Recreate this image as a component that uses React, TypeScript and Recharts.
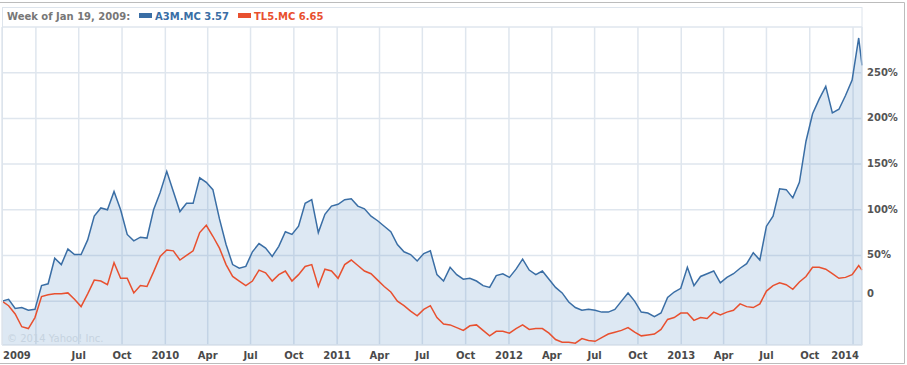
import { ComposedChart, Area, Line, XAxis, YAxis, CartesianGrid } from 'recharts'

const START = Date.UTC(2009, 0, 19)
const WEEK_MS = 7 * 24 * 3600 * 1000

// one point every other week since Jan 19 2009, plus the latest week
const weeks = [...Array.from({ length: 131 }, (_, i) => i * 2), 261]

// % change since start
const a3m = [
  0, 2, -8, -7, -10, -9, 17, 19, 47, 40,
  57, 51, 51, 67, 93, 102, 100, 120, 100, 73,
  66, 70, 69, 100, 119, 142, 120, 98, 107, 107,
  135, 130, 122, 90, 62, 40, 36, 38, 54, 63,
  58, 49, 60, 76, 73, 82, 107, 111, 75, 95,
  104, 106, 111, 112, 104, 101, 93, 88, 82, 76,
  62, 54, 51, 44, 52, 55, 29, 22, 37, 29,
  24, 25, 22, 17, 15, 28, 30, 26, 35, 46,
  34, 29, 33, 24, 15, 9, -1, -7, -10, -9,
  -10, -12, -12, -9, 0, 9, 0, -12, -13, -17,
  -13, 4, 10, 14, 37, 17, 27, 30, 33, 20,
  26, 30, 36, 41, 53, 45, 82, 93, 123, 122,
  113, 130, 175, 205, 221, 235, 206, 210, 225, 242,
  288, 258,
]

const tl5 = [
  0, -5, -14, -28, -30, -18, 5, 7, 8, 8,
  9, 2, -6, 8, 23, 22, 18, 42, 25, 25,
  9, 17, 16, 32, 49, 56, 55, 45, 50, 55,
  75, 83, 71, 58, 40, 27, 22, 17, 22, 34,
  31, 22, 29, 33, 22, 29, 38, 40, 16, 35,
  33, 25, 40, 45, 39, 33, 30, 23, 16, 10,
  0, -5, -11, -16, -9, -5, -18, -25, -26, -29,
  -32, -27, -26, -32, -38, -33, -33, -35, -30, -26,
  -31, -30, -30, -35, -42, -45, -45, -46, -41, -43,
  -44, -40, -36, -34, -32, -29, -34, -38, -37, -36,
  -31, -20, -18, -13, -13, -21, -18, -19, -12, -15,
  -12, -10, -3, -6, -7, -3, 11, 17, 20, 18,
  13, 21, 27, 37, 37, 35, 30, 25, 26, 29,
  39, 34,
]

const yTicks = [0, 50, 100, 150, 200, 250, 300]
const monthNames: Record<number, string> = { 3: 'Apr', 6: 'Jul', 9: 'Oct' }

const data = weeks.map((w, i) => ({ w, a3m: a3m[i], tl5: tl5[i] }))

// quarter gridlines; first label sits at the left edge
const xTicks: { w: number; label: string }[] = [{ w: 0, label: '2009' }]
for (let y = 2009; y <= 2014; y++) {
  for (const m of [0, 3, 6, 9]) {
    const w = (Date.UTC(y, m, 1) - START) / WEEK_MS
    if (w <= 0 || w > 261) continue
    const label = y === 2009 && m === 3 ? '' : m === 0 ? String(y) : monthNames[m]
    xTicks.push({ w, label })
  }
}

const FONT = '"DejaVu Sans", Verdana, sans-serif'
const BLUE = '#3a6ea5'
const RED = '#e8502f'

function XTick({ x, y, payload }: any) {
  const t = xTicks.find((t) => Math.abs(t.w - payload.value) < 1e-6)
  let anchor = 'middle'
  let tx = x
  if (payload.value === 0) {
    anchor = 'start'
    tx = x + 1
  } else if (x > 845) {
    anchor = 'end'
    tx = x + 6
  }
  return (
    <text x={tx} y={y} dy={14} textAnchor={anchor} fontSize={10} fontWeight="bold" fill="#4a4a4a" fontFamily={FONT}>
      {t ? t.label : ''}
    </text>
  )
}

function YTick({ x, y, payload }: any) {
  const v = payload.value
  if (v === 300) return <g />
  return (
    <text x={x} y={y} dy={v === 0 ? -4 : 3} textAnchor="start" fontSize={10} fontWeight="bold" fill="#555" fontFamily={FONT}>
      {v === 0 ? '0' : `${v}%`}
    </text>
  )
}

export default function App() {
  return (
    <div style={{ position: 'absolute', left: 0, top: 0, width: 907, height: 365, background: '#fff' }}>
      <ComposedChart width={907} height={365} data={data} margin={{ top: 27, right: 0, bottom: 0, left: 2 }}>
        <CartesianGrid stroke="#dfe6ee" strokeWidth={1.5} />
        <XAxis
          dataKey="w"
          type="number"
          domain={[0, 261]}
          ticks={xTicks.map((t) => t.w)}
          interval={0}
          height={20}
          tickSize={0}
          tickMargin={0}
          axisLine={false}
          tickLine={false}
          tick={<XTick />}
        />
        <YAxis
          orientation="right"
          width={45}
          domain={[-48, 300]}
          ticks={yTicks}
          interval={0}
          tickSize={0}
          tickMargin={5}
          axisLine={false}
          tickLine={false}
          tick={<YTick />}
        />
        <Area
          type="linear"
          dataKey="a3m"
          baseValue="dataMin"
          stroke="none"
          fill="rgb(70,130,190)"
          fillOpacity={0.184}
          isAnimationActive={false}
        />
        <Line type="linear" dataKey="tl5" stroke={RED} strokeWidth={1.5} dot={false} activeDot={false} isAnimationActive={false} />
        <Line type="linear" dataKey="a3m" stroke={BLUE} strokeWidth={1.5} dot={false} activeDot={false} isAnimationActive={false} />
      </ComposedChart>
      <svg width={907} height={365} style={{ position: 'absolute', left: 0, top: 0, pointerEvents: 'none' }}>
        <path d="M0 2.5 H904.5 V363.5 H0" fill="none" stroke="#bcbcbc" />
        <rect x={2.5} y={7.5} width={859.5} height={337.5} fill="none" stroke="#dde4ec" />
        <text x={7} y={19.5} fontSize={10} fontWeight="bold" fill="#777" fontFamily={FONT}>
          Week of Jan 19, 2009:
        </text>
        <rect x={139} y={13} width={13} height={5} fill={BLUE} />
        <text x={155} y={19.5} fontSize={10} fontWeight="bold" fill={BLUE} fontFamily={FONT}>
          A3M.MC 3.57
        </text>
        <rect x={238} y={13} width={13} height={5} fill={RED} />
        <text x={254} y={19.5} fontSize={10} fontWeight="bold" fill={RED} fontFamily={FONT}>
          TL5.MC 6.65
        </text>
        <text x={7} y={342} fontSize={10} fill="#c6d3e0" fontFamily={FONT}>
          © 2014 Yahoo! Inc.
        </text>
      </svg>
    </div>
  )
}
